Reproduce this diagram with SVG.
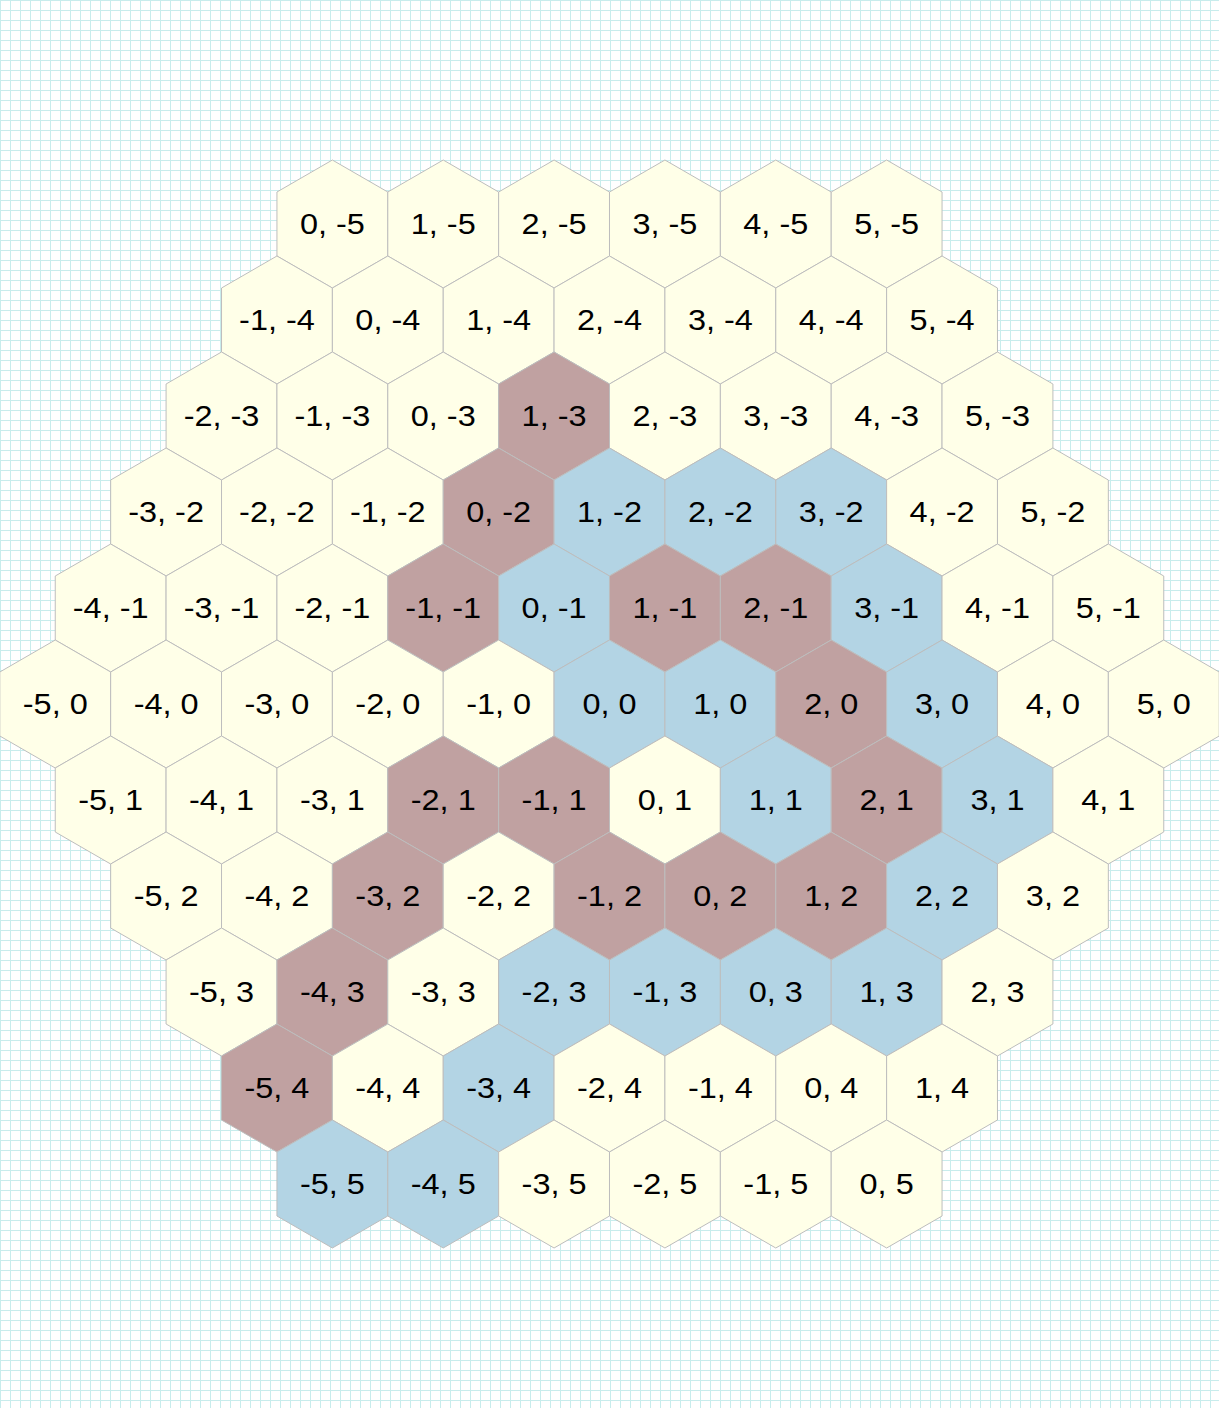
<svg xmlns="http://www.w3.org/2000/svg" xmlns:xlink="http://www.w3.org/1999/xlink" width="1219" height="1408" viewBox="0 0 1219 1408">
<style>
.h{stroke:#bdbdbd;stroke-width:1}
.c{fill:#ffffe8}
.m{fill:#c0a1a1}
.b{fill:#b3d4e4}
.t{font-family:"Liberation Sans",Arial,sans-serif;font-size:29.5px;text-anchor:middle;fill:#000;transform:scale(1.1,1)}
</style>
<defs>
<pattern id="grid" patternUnits="userSpaceOnUse" width="10" height="10">
<path d="M0.5 0V10M0 0.5H10" stroke="#c8ecec" stroke-width="1" fill="none"/>
</pattern>
<polygon id="hex" points="0,-64 55.43,-32 55.43,32 0,64 -55.43,32 -55.43,-32"/>
</defs>
<rect width="1219" height="1408" fill="#ffffff"/>
<rect width="1219" height="1408" fill="url(#grid)"/>
<g id="connectors"/>
<g id="nodes">
<!-- r=-5 -->
<g id="h_0_-5" transform="translate(332.37,224)"><use href="#hex" class="h c"/><text class="t" y="9.5">0, -5</text></g>
<g id="h_1_-5" transform="translate(443.22,224)"><use href="#hex" class="h c"/><text class="t" y="9.5">1, -5</text></g>
<g id="h_2_-5" transform="translate(554.07,224)"><use href="#hex" class="h c"/><text class="t" y="9.5">2, -5</text></g>
<g id="h_3_-5" transform="translate(664.93,224)"><use href="#hex" class="h c"/><text class="t" y="9.5">3, -5</text></g>
<g id="h_4_-5" transform="translate(775.78,224)"><use href="#hex" class="h c"/><text class="t" y="9.5">4, -5</text></g>
<g id="h_5_-5" transform="translate(886.63,224)"><use href="#hex" class="h c"/><text class="t" y="9.5">5, -5</text></g>
<!-- r=-4 -->
<g id="h_-1_-4" transform="translate(276.95,320)"><use href="#hex" class="h c"/><text class="t" y="9.5">-1, -4</text></g>
<g id="h_0_-4" transform="translate(387.80,320)"><use href="#hex" class="h c"/><text class="t" y="9.5">0, -4</text></g>
<g id="h_1_-4" transform="translate(498.65,320)"><use href="#hex" class="h c"/><text class="t" y="9.5">1, -4</text></g>
<g id="h_2_-4" transform="translate(609.5,320)"><use href="#hex" class="h c"/><text class="t" y="9.5">2, -4</text></g>
<g id="h_3_-4" transform="translate(720.35,320)"><use href="#hex" class="h c"/><text class="t" y="9.5">3, -4</text></g>
<g id="h_4_-4" transform="translate(831.20,320)"><use href="#hex" class="h c"/><text class="t" y="9.5">4, -4</text></g>
<g id="h_5_-4" transform="translate(942.05,320)"><use href="#hex" class="h c"/><text class="t" y="9.5">5, -4</text></g>
<!-- r=-3 -->
<g id="h_-2_-3" transform="translate(221.52,416)"><use href="#hex" class="h c"/><text class="t" y="9.5">-2, -3</text></g>
<g id="h_-1_-3" transform="translate(332.37,416)"><use href="#hex" class="h c"/><text class="t" y="9.5">-1, -3</text></g>
<g id="h_0_-3" transform="translate(443.22,416)"><use href="#hex" class="h c"/><text class="t" y="9.5">0, -3</text></g>
<g id="h_1_-3" transform="translate(554.07,416)"><use href="#hex" class="h m"/><text class="t" y="9.5">1, -3</text></g>
<g id="h_2_-3" transform="translate(664.93,416)"><use href="#hex" class="h c"/><text class="t" y="9.5">2, -3</text></g>
<g id="h_3_-3" transform="translate(775.78,416)"><use href="#hex" class="h c"/><text class="t" y="9.5">3, -3</text></g>
<g id="h_4_-3" transform="translate(886.63,416)"><use href="#hex" class="h c"/><text class="t" y="9.5">4, -3</text></g>
<g id="h_5_-3" transform="translate(997.48,416)"><use href="#hex" class="h c"/><text class="t" y="9.5">5, -3</text></g>
<!-- r=-2 -->
<g id="h_-3_-2" transform="translate(166.10,512)"><use href="#hex" class="h c"/><text class="t" y="9.5">-3, -2</text></g>
<g id="h_-2_-2" transform="translate(276.95,512)"><use href="#hex" class="h c"/><text class="t" y="9.5">-2, -2</text></g>
<g id="h_-1_-2" transform="translate(387.80,512)"><use href="#hex" class="h c"/><text class="t" y="9.5">-1, -2</text></g>
<g id="h_0_-2" transform="translate(498.65,512)"><use href="#hex" class="h m"/><text class="t" y="9.5">0, -2</text></g>
<g id="h_1_-2" transform="translate(609.5,512)"><use href="#hex" class="h b"/><text class="t" y="9.5">1, -2</text></g>
<g id="h_2_-2" transform="translate(720.35,512)"><use href="#hex" class="h b"/><text class="t" y="9.5">2, -2</text></g>
<g id="h_3_-2" transform="translate(831.20,512)"><use href="#hex" class="h b"/><text class="t" y="9.5">3, -2</text></g>
<g id="h_4_-2" transform="translate(942.05,512)"><use href="#hex" class="h c"/><text class="t" y="9.5">4, -2</text></g>
<g id="h_5_-2" transform="translate(1052.90,512)"><use href="#hex" class="h c"/><text class="t" y="9.5">5, -2</text></g>
<!-- r=-1 -->
<g id="h_-4_-1" transform="translate(110.67,608)"><use href="#hex" class="h c"/><text class="t" y="9.5">-4, -1</text></g>
<g id="h_-3_-1" transform="translate(221.52,608)"><use href="#hex" class="h c"/><text class="t" y="9.5">-3, -1</text></g>
<g id="h_-2_-1" transform="translate(332.37,608)"><use href="#hex" class="h c"/><text class="t" y="9.5">-2, -1</text></g>
<g id="h_-1_-1" transform="translate(443.22,608)"><use href="#hex" class="h m"/><text class="t" y="9.5">-1, -1</text></g>
<g id="h_0_-1" transform="translate(554.07,608)"><use href="#hex" class="h b"/><text class="t" y="9.5">0, -1</text></g>
<g id="h_1_-1" transform="translate(664.93,608)"><use href="#hex" class="h m"/><text class="t" y="9.5">1, -1</text></g>
<g id="h_2_-1" transform="translate(775.78,608)"><use href="#hex" class="h m"/><text class="t" y="9.5">2, -1</text></g>
<g id="h_3_-1" transform="translate(886.63,608)"><use href="#hex" class="h b"/><text class="t" y="9.5">3, -1</text></g>
<g id="h_4_-1" transform="translate(997.48,608)"><use href="#hex" class="h c"/><text class="t" y="9.5">4, -1</text></g>
<g id="h_5_-1" transform="translate(1108.33,608)"><use href="#hex" class="h c"/><text class="t" y="9.5">5, -1</text></g>
<!-- r=0 -->
<g id="h_-5_0" transform="translate(55.24,704)"><use href="#hex" class="h c"/><text class="t" y="9.5">-5, 0</text></g>
<g id="h_-4_0" transform="translate(166.10,704)"><use href="#hex" class="h c"/><text class="t" y="9.5">-4, 0</text></g>
<g id="h_-3_0" transform="translate(276.95,704)"><use href="#hex" class="h c"/><text class="t" y="9.5">-3, 0</text></g>
<g id="h_-2_0" transform="translate(387.80,704)"><use href="#hex" class="h c"/><text class="t" y="9.5">-2, 0</text></g>
<g id="h_-1_0" transform="translate(498.65,704)"><use href="#hex" class="h c"/><text class="t" y="9.5">-1, 0</text></g>
<g id="h_0_0" transform="translate(609.5,704)"><use href="#hex" class="h b"/><text class="t" y="9.5">0, 0</text></g>
<g id="h_1_0" transform="translate(720.35,704)"><use href="#hex" class="h b"/><text class="t" y="9.5">1, 0</text></g>
<g id="h_2_0" transform="translate(831.20,704)"><use href="#hex" class="h m"/><text class="t" y="9.5">2, 0</text></g>
<g id="h_3_0" transform="translate(942.05,704)"><use href="#hex" class="h b"/><text class="t" y="9.5">3, 0</text></g>
<g id="h_4_0" transform="translate(1052.90,704)"><use href="#hex" class="h c"/><text class="t" y="9.5">4, 0</text></g>
<g id="h_5_0" transform="translate(1163.76,704)"><use href="#hex" class="h c"/><text class="t" y="9.5">5, 0</text></g>
<!-- r=1 -->
<g id="h_-5_1" transform="translate(110.67,800)"><use href="#hex" class="h c"/><text class="t" y="9.5">-5, 1</text></g>
<g id="h_-4_1" transform="translate(221.52,800)"><use href="#hex" class="h c"/><text class="t" y="9.5">-4, 1</text></g>
<g id="h_-3_1" transform="translate(332.37,800)"><use href="#hex" class="h c"/><text class="t" y="9.5">-3, 1</text></g>
<g id="h_-2_1" transform="translate(443.22,800)"><use href="#hex" class="h m"/><text class="t" y="9.5">-2, 1</text></g>
<g id="h_-1_1" transform="translate(554.07,800)"><use href="#hex" class="h m"/><text class="t" y="9.5">-1, 1</text></g>
<g id="h_0_1" transform="translate(664.93,800)"><use href="#hex" class="h c"/><text class="t" y="9.5">0, 1</text></g>
<g id="h_1_1" transform="translate(775.78,800)"><use href="#hex" class="h b"/><text class="t" y="9.5">1, 1</text></g>
<g id="h_2_1" transform="translate(886.63,800)"><use href="#hex" class="h m"/><text class="t" y="9.5">2, 1</text></g>
<g id="h_3_1" transform="translate(997.48,800)"><use href="#hex" class="h b"/><text class="t" y="9.5">3, 1</text></g>
<g id="h_4_1" transform="translate(1108.33,800)"><use href="#hex" class="h c"/><text class="t" y="9.5">4, 1</text></g>
<!-- r=2 -->
<g id="h_-5_2" transform="translate(166.10,896)"><use href="#hex" class="h c"/><text class="t" y="9.5">-5, 2</text></g>
<g id="h_-4_2" transform="translate(276.95,896)"><use href="#hex" class="h c"/><text class="t" y="9.5">-4, 2</text></g>
<g id="h_-3_2" transform="translate(387.80,896)"><use href="#hex" class="h m"/><text class="t" y="9.5">-3, 2</text></g>
<g id="h_-2_2" transform="translate(498.65,896)"><use href="#hex" class="h c"/><text class="t" y="9.5">-2, 2</text></g>
<g id="h_-1_2" transform="translate(609.5,896)"><use href="#hex" class="h m"/><text class="t" y="9.5">-1, 2</text></g>
<g id="h_0_2" transform="translate(720.35,896)"><use href="#hex" class="h m"/><text class="t" y="9.5">0, 2</text></g>
<g id="h_1_2" transform="translate(831.20,896)"><use href="#hex" class="h m"/><text class="t" y="9.5">1, 2</text></g>
<g id="h_2_2" transform="translate(942.05,896)"><use href="#hex" class="h b"/><text class="t" y="9.5">2, 2</text></g>
<g id="h_3_2" transform="translate(1052.90,896)"><use href="#hex" class="h c"/><text class="t" y="9.5">3, 2</text></g>
<!-- r=3 -->
<g id="h_-5_3" transform="translate(221.52,992)"><use href="#hex" class="h c"/><text class="t" y="9.5">-5, 3</text></g>
<g id="h_-4_3" transform="translate(332.37,992)"><use href="#hex" class="h m"/><text class="t" y="9.5">-4, 3</text></g>
<g id="h_-3_3" transform="translate(443.22,992)"><use href="#hex" class="h c"/><text class="t" y="9.5">-3, 3</text></g>
<g id="h_-2_3" transform="translate(554.07,992)"><use href="#hex" class="h b"/><text class="t" y="9.5">-2, 3</text></g>
<g id="h_-1_3" transform="translate(664.93,992)"><use href="#hex" class="h b"/><text class="t" y="9.5">-1, 3</text></g>
<g id="h_0_3" transform="translate(775.78,992)"><use href="#hex" class="h b"/><text class="t" y="9.5">0, 3</text></g>
<g id="h_1_3" transform="translate(886.63,992)"><use href="#hex" class="h b"/><text class="t" y="9.5">1, 3</text></g>
<g id="h_2_3" transform="translate(997.48,992)"><use href="#hex" class="h c"/><text class="t" y="9.5">2, 3</text></g>
<!-- r=4 -->
<g id="h_-5_4" transform="translate(276.95,1088)"><use href="#hex" class="h m"/><text class="t" y="9.5">-5, 4</text></g>
<g id="h_-4_4" transform="translate(387.80,1088)"><use href="#hex" class="h c"/><text class="t" y="9.5">-4, 4</text></g>
<g id="h_-3_4" transform="translate(498.65,1088)"><use href="#hex" class="h b"/><text class="t" y="9.5">-3, 4</text></g>
<g id="h_-2_4" transform="translate(609.5,1088)"><use href="#hex" class="h c"/><text class="t" y="9.5">-2, 4</text></g>
<g id="h_-1_4" transform="translate(720.35,1088)"><use href="#hex" class="h c"/><text class="t" y="9.5">-1, 4</text></g>
<g id="h_0_4" transform="translate(831.20,1088)"><use href="#hex" class="h c"/><text class="t" y="9.5">0, 4</text></g>
<g id="h_1_4" transform="translate(942.05,1088)"><use href="#hex" class="h c"/><text class="t" y="9.5">1, 4</text></g>
<!-- r=5 -->
<g id="h_-5_5" transform="translate(332.37,1184)"><use href="#hex" class="h b"/><text class="t" y="9.5">-5, 5</text></g>
<g id="h_-4_5" transform="translate(443.22,1184)"><use href="#hex" class="h b"/><text class="t" y="9.5">-4, 5</text></g>
<g id="h_-3_5" transform="translate(554.07,1184)"><use href="#hex" class="h c"/><text class="t" y="9.5">-3, 5</text></g>
<g id="h_-2_5" transform="translate(664.93,1184)"><use href="#hex" class="h c"/><text class="t" y="9.5">-2, 5</text></g>
<g id="h_-1_5" transform="translate(775.78,1184)"><use href="#hex" class="h c"/><text class="t" y="9.5">-1, 5</text></g>
<g id="h_0_5" transform="translate(886.63,1184)"><use href="#hex" class="h c"/><text class="t" y="9.5">0, 5</text></g>
</g>
</svg>
